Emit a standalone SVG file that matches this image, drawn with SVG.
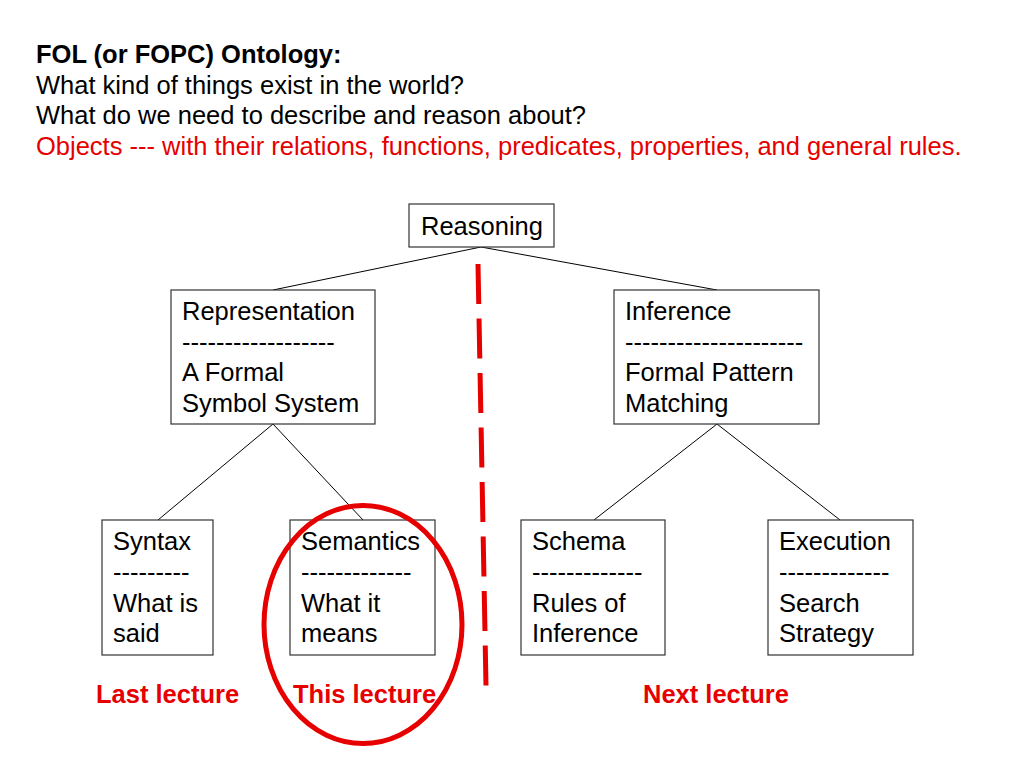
<svg xmlns="http://www.w3.org/2000/svg" width="1024" height="768" viewBox="0 0 1024 768">
<style>
text{font-family:"Liberation Sans",Arial,sans-serif;font-size:25.5px;fill:#000}
.b{font-weight:bold}
.r{fill:#e60000}
.box{fill:#fff;stroke:#333;stroke-width:1.2}
.edge{stroke:#000;stroke-width:1;fill:none}
</style>
<rect width="1024" height="768" fill="#fff"/>
<g id="header">
<text x="36" y="63" class="b">FOL (or FOPC) Ontology:</text>
<text x="36" y="94">What kind of things exist in the world?</text>
<text x="36" y="124">What do we need to describe and reason about?</text>
<text x="36" y="155" class="r">Objects --- with their relations, functions, predicates, properties, and general rules.</text>
</g>
<g id="connectors">
<line class="edge" x1="481" y1="247" x2="273" y2="290"/>
<line class="edge" x1="481" y1="247" x2="717" y2="290"/>
<line class="edge" x1="273" y1="424" x2="158" y2="520"/>
<line class="edge" x1="273" y1="424" x2="363" y2="520"/>
<line class="edge" x1="717" y1="424" x2="594" y2="520"/>
<line class="edge" x1="717" y1="424" x2="840" y2="520"/>
</g>
<g id="reasoning">
<rect class="box" x="409" y="204" width="145" height="43"/>
<text x="421" y="235">Reasoning</text>
</g>
<g id="representation">
<rect class="box" x="171" y="290" width="204" height="134"/>
<text x="182" y="320">Representation</text>
<text x="182" y="351">------------------</text>
<text x="182" y="381">A Formal</text>
<text x="182" y="412">Symbol System</text>
</g>
<g id="inference">
<rect class="box" x="614" y="290" width="205" height="134"/>
<text x="625" y="320">Inference</text>
<text x="625" y="351">---------------------</text>
<text x="625" y="381">Formal Pattern</text>
<text x="625" y="412">Matching</text>
</g>
<g id="syntax">
<rect class="box" x="102" y="520" width="111" height="135"/>
<text x="113" y="550">Syntax</text>
<text x="113" y="581">---------</text>
<text x="113" y="612">What is</text>
<text x="113" y="642">said</text>
</g>
<g id="semantics">
<rect class="box" x="290" y="520" width="145" height="135"/>
<text x="301" y="550">Semantics</text>
<text x="301" y="581">-------------</text>
<text x="301" y="612">What it</text>
<text x="301" y="642">means</text>
</g>
<g id="schema">
<rect class="box" x="521" y="520" width="144" height="135"/>
<text x="532" y="550">Schema</text>
<text x="532" y="581">-------------</text>
<text x="532" y="612">Rules of</text>
<text x="532" y="642">Inference</text>
</g>
<g id="execution">
<rect class="box" x="768" y="520" width="145" height="135"/>
<text x="779" y="550">Execution</text>
<text x="779" y="581">-------------</text>
<text x="779" y="612">Search</text>
<text x="779" y="642">Strategy</text>
</g>
<g id="annotations">
<line x1="478" y1="264" x2="486" y2="685.5" stroke="#e60000" stroke-width="5" stroke-dasharray="40 14.5"/>
<ellipse cx="363" cy="624.5" rx="99" ry="119" fill="none" stroke="#e60000" stroke-width="5"/>
<text x="96" y="703" class="b r">Last lecture</text>
<text x="293" y="703" class="b r">This lecture</text>
<text x="643" y="703" class="b r">Next lecture</text>
</g>
</svg>
